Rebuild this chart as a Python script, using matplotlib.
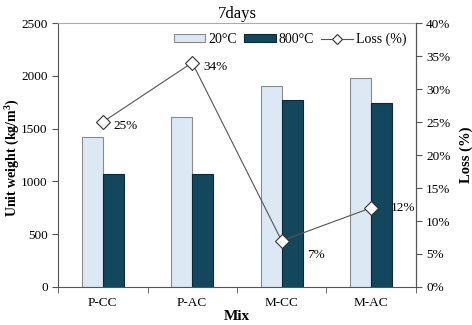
import matplotlib
matplotlib.use("Agg")
import matplotlib.pyplot as plt
import numpy as np
from matplotlib.ticker import PercentFormatter, FixedLocator

plt.rcParams['font.family'] = ['Liberation Serif', 'DejaVu Serif']
plt.rcParams['mathtext.fontset'] = 'custom'
plt.rcParams['mathtext.rm'] = 'Liberation Serif'
plt.rcParams['mathtext.bf'] = 'Liberation Serif:bold'

categories = ["P-CC", "P-AC", "M-CC", "M-AC"]
w20 = [1420, 1610, 1900, 1980]
w800 = [1070, 1070, 1770, 1740]
loss = [25, 34, 7, 12]
loss_labels = ["25%", "34%", "7%", "12%"]

fig = plt.figure(figsize=(4.72, 3.25), dpi=100)
ax = fig.add_axes([0.123, 0.117, 0.758, 0.812])
x = np.arange(len(categories))
bw = 0.235
ax.bar(x - bw/2, w20, bw, color="#dce9f5", edgecolor="#8a8a8a", linewidth=0.8, label="20°C")
ax.bar(x + bw/2, w800, bw, color="#13475e", edgecolor="#0b2a38", linewidth=0.8, label="800°C")
ax.set_xlim(-0.5, 3.5)
ax.set_ylim(0, 2500)
ax.set_yticks([0, 500, 1000, 1500, 2000, 2500])
ax.set_xticks(x)
ax.set_xticklabels(categories, fontsize=9.5)
ax.tick_params(axis='x', length=0, pad=7)
ax.xaxis.set_minor_locator(FixedLocator([-0.5, 0.5, 1.5, 2.5, 3.5]))
ax.tick_params(axis='x', which='minor', length=4, direction='out', color='#555555')
ax.tick_params(axis='y', labelsize=9.5, direction='out', length=4, color='#555555')
ax.set_xlabel("Mix", fontsize=11, fontweight='bold', labelpad=1)
fig.text(12/472, 0.515, "Unit weight (kg/m$^\\mathbf{3}$)", fontsize=10, fontweight='bold',
         rotation=90, ha='center', va='center')
for s in ['left', 'bottom', 'right', 'top']:
    ax.spines[s].set_color('#555555')
ax.spines['top'].set_color('#aaaaaa')
ax.set_title("7days", fontsize=12, pad=4)

ax2 = ax.twinx()
ax2.plot(x, loss, color="#555555", linewidth=0.8, marker='D', markersize=7,
         markerfacecolor='white', markeredgecolor='#333333', markeredgewidth=0.8, label="Loss (%)")
ax2.set_ylim(0, 40)
ax2.set_yticks(np.arange(0, 41, 5))
ax2.yaxis.set_major_formatter(PercentFormatter(decimals=0))
ax2.tick_params(axis='y', labelsize=9.5, direction='out', length=4, color='#555555')
ax2.set_ylabel("Loss (%)", fontsize=10.5, fontweight='bold', labelpad=6)
ax2.spines['top'].set_visible(False)
ax2.spines['right'].set_color('#555555')
ax2.spines['left'].set_visible(False)
ax2.spines['bottom'].set_visible(False)

offsets = [(8, -3), (8, -3), (18, -10), (14, 0)]
for xi, yi, lab, off in zip(x, loss, loss_labels, offsets):
    ax2.annotate(lab, (xi, yi), xytext=off, textcoords='offset points', fontsize=9.5,
                 va='center', ha='left')

h1, l1 = ax.get_legend_handles_labels()
h2, l2 = ax2.get_legend_handles_labels()
ax2.legend(h1 + h2, l1 + l2, loc='upper right', ncol=3, frameon=False, fontsize=10,
           handlelength=2.3, handleheight=0.55, columnspacing=0.5, handletextpad=0.2,
           borderaxespad=0.3, markerscale=0.7)

fig.savefig("out.png", dpi=100)
